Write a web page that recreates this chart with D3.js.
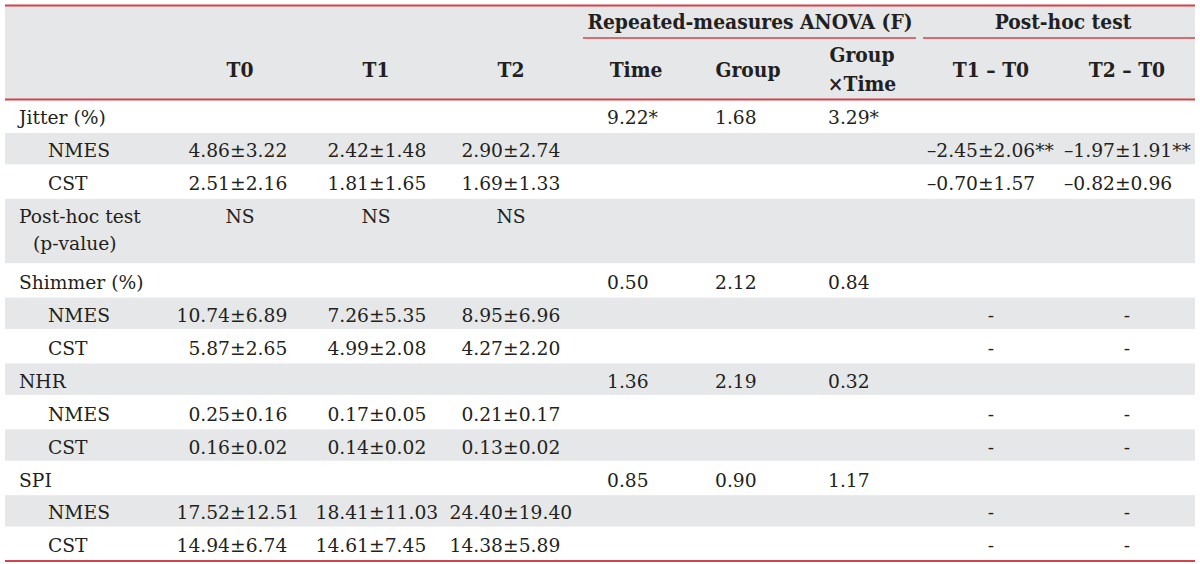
<!DOCTYPE html>
<html>
<head>
<meta charset="utf-8">
<script src="https://cdn.jsdelivr.net/npm/d3@7"></script>
<style>
  html, body { margin: 0; padding: 0; background: #ffffff; }
  svg { display: block; }
</style>
</head>
<body>
<div id="chart"></div>
<script>
// ---------- data ----------
const timeCols = ["T0", "T1", "T2"];
const anovaCols = ["Time", "Group", "Group|×Time"];
const posthocCols = ["T1 – T0", "T2 – T0"];
const spanHeaders = ["Repeated-measures ANOVA (F)", "Post-hoc test"];
const measures = ["Jitter (%)", "Shimmer (%)", "NHR", "SPI"];
const groups = ["NMES", "CST"];

const jitterNMES = ["4.86±3.22", "2.42±1.48", "2.90±2.74"];
const jitterCST = ["2.51±2.16", "1.81±1.65", "1.69±1.33"];
const shimmerNMES = ["10.74±6.89", "7.26±5.35", "8.95±6.96"];
const shimmerCST = ["5.87±2.65", "4.99±2.08", "4.27±2.20"];
const nhrNMES = ["0.25±0.16", "0.17±0.05", "0.21±0.17"];
const nhrCST = ["0.16±0.02", "0.14±0.02", "0.13±0.02"];
const spiNMES = ["17.52±12.51", "18.41±11.03", "24.40±19.40"];
const spiCST = ["14.94±6.74", "14.61±7.45", "14.38±5.89"];

const anovaJitter = ["9.22*", "1.68", "3.29*"];
const anovaShimmer = ["0.50", "2.12", "0.84"];
const anovaNHR = ["1.36", "2.19", "0.32"];
const anovaSPI = ["0.85", "0.90", "1.17"];

const postJitterNMES = ["–2.45±2.06**", "–1.97±1.91**"];
const postJitterCST = ["–0.70±1.57", "–0.82±0.96"];
const postShimmerNMES = ["-", "-"];
const postShimmerCST = ["-", "-"];
const postNHRNMES = ["-", "-"];
const postNHRCST = ["-", "-"];
const postSPINMES = ["-", "-"];
const postSPICST = ["-", "-"];

const posthocRowLabel = ["Post-hoc test", "(p-value)"];
const posthocRowValues = ["NS", "NS", "NS"];

// ---------- build row list ----------
const rows = [
  {type: "measure", label: measures[0], anova: anovaJitter, units: 1},
  {type: "group", label: groups[0], vals: jitterNMES, post: postJitterNMES, units: 1},
  {type: "group", label: groups[1], vals: jitterCST, post: postJitterCST, units: 1},
  {type: "posthoc", label: posthocRowLabel, ns: posthocRowValues, units: 2},
  {type: "measure", label: measures[1], anova: anovaShimmer, units: 1},
  {type: "group", label: groups[0], vals: shimmerNMES, post: postShimmerNMES, units: 1},
  {type: "group", label: groups[1], vals: shimmerCST, post: postShimmerCST, units: 1},
  {type: "measure", label: measures[2], anova: anovaNHR, units: 1},
  {type: "group", label: groups[0], vals: nhrNMES, post: postNHRNMES, units: 1},
  {type: "group", label: groups[1], vals: nhrCST, post: postNHRCST, units: 1},
  {type: "measure", label: measures[3], anova: anovaSPI, units: 1},
  {type: "group", label: groups[0], vals: spiNMES, post: postSPINMES, units: 1},
  {type: "group", label: groups[1], vals: spiCST, post: postSPICST, units: 1}
];
let acc = 0;
rows.forEach((r, i) => { r.start = acc; acc += r.units; r.end = acc; r.index = i; });
const totalUnits = acc;

// ---------- layout ----------
const W = 1200, H = 564;
const left = 5, right = 1195;
const topLine = 5.5, headBottom = 99.5, bodyBottom = 561;
const red = "#d4434b";
const gray = "#e6e7e8";
const ink = "#231f20";
const bodyFont = "'DejaVu Serif', serif";
const headFont = "'DejaVu Serif Condensed', 'DejaVu Serif', serif";
const fs = 18.7;

const y = d3.scaleLinear().domain([0, totalUnits]).range([headBottom + 0.5, bodyBottom]);

// column centres (header) and alignment anchors
const timeCenter = d3.scaleOrdinal().domain(timeCols).range([240, 376, 511]);
const timePm = d3.scaleOrdinal().domain(timeCols).range([230, 369, 503]);
const anovaCenter = d3.scaleOrdinal().domain(anovaCols).range([636, 748, 862]);
const anovaLeft = d3.scaleOrdinal().domain(anovaCols).range([607, 715, 828]);
const postCenter = d3.scaleOrdinal().domain(posthocCols).range([991, 1127]);
const postLeft = d3.scaleOrdinal().domain(posthocCols).range([927, 1064]);

const svg = d3.select("#chart").append("svg").attr("width", W).attr("height", H);

// header background
svg.append("rect").attr("x", left).attr("y", topLine).attr("width", right - left)
  .attr("height", headBottom - topLine).attr("fill", gray);

// row stripes
svg.append("g").selectAll("rect").data(rows.filter(r => r.index % 2 === 1)).join("rect")
  .attr("x", left).attr("width", right - left)
  .attr("y", d => y(d.start)).attr("height", d => y(d.end) - y(d.start) - 1.5)
  .attr("fill", gray);

// rules
const rules = [
  {x1: left, x2: right, y: topLine, w: 2},
  {x1: left, x2: right, y: headBottom, w: 2},
  {x1: left, x2: right, y: bodyBottom, w: 2},
  {x1: 583, x2: 916, y: 38, w: 1.6},
  {x1: 923, x2: right, y: 38, w: 1.6}
];
svg.append("g").selectAll("line").data(rules).join("line")
  .attr("x1", d => d.x1).attr("x2", d => d.x2).attr("y1", d => d.y).attr("y2", d => d.y)
  .attr("stroke", red).attr("stroke-width", d => d.w);

// header text
const hg = svg.append("g").attr("font-family", headFont).attr("font-weight", "bold")
  .attr("font-size", 20.8).attr("fill", ink).attr("text-anchor", "middle");
hg.append("text").attr("x", 750).attr("y", 28.5).text(spanHeaders[0]);
hg.append("text").attr("x", 1063).attr("y", 28.5).text(spanHeaders[1]);
hg.selectAll(".tc").data(timeCols).join("text").attr("class", "tc")
  .attr("x", d => timeCenter(d)).attr("y", 77).text(d => d);
hg.selectAll(".ac").data(anovaCols).join("text").attr("class", "ac")
  .attr("x", d => anovaCenter(d))
  .each(function(d) {
    const parts = d.split("|");
    const t = d3.select(this);
    if (parts.length === 1) { t.attr("y", 77).text(d); }
    else {
      t.attr("y", 62);
      parts.forEach((p, i) => t.append("tspan").attr("x", anovaCenter(d)).attr("dy", i === 0 ? 0 : 28.5).text(p));
    }
  });
hg.selectAll(".pc").data(posthocCols).join("text").attr("class", "pc")
  .attr("x", d => postCenter(d)).attr("y", 77).text(d => d);

// body text
const bg = svg.append("g").attr("font-family", bodyFont).attr("font-size", fs).attr("fill", ink);
const base = r => y(r.start) + 24.3;

function pmText(g, str, xPm, yy) {
  const k = str.indexOf("±");
  if (k < 0) {
    g.append("text").attr("x", xPm).attr("y", yy).attr("text-anchor", "middle").text(str);
    return;
  }
  g.append("text").attr("x", xPm).attr("y", yy).attr("text-anchor", "end").text(str.slice(0, k));
  g.append("text").attr("x", xPm).attr("y", yy).attr("text-anchor", "start").text(str.slice(k));
}

rows.forEach(r => {
  const yy = base(r);
  if (r.type === "measure") {
    bg.append("text").attr("x", 19).attr("y", yy).text(r.label);
    r.anova.forEach((v, i) => bg.append("text").attr("x", anovaLeft(anovaCols[i])).attr("y", yy).text(v));
  } else if (r.type === "group") {
    bg.append("text").attr("x", 48).attr("y", yy).text(r.label);
    r.vals.forEach((v, i) => pmText(bg, v, timePm(timeCols[i]), yy));
    r.post.forEach((v, i) => {
      const c = posthocCols[i];
      if (v === "-") bg.append("text").attr("x", postCenter(c)).attr("y", yy).attr("text-anchor", "middle").text(v);
      else bg.append("text").attr("x", postLeft(c)).attr("y", yy).text(v);
    });
  } else {
    bg.append("text").attr("x", 19).attr("y", yy).text(r.label[0]);
    bg.append("text").attr("x", 33).attr("y", yy + 27).text(r.label[1]);
    r.ns.forEach((v, i) => bg.append("text").attr("x", timeCenter(timeCols[i])).attr("y", yy)
      .attr("text-anchor", "middle").text(v));
  }
});
</script>
</body>
</html>
